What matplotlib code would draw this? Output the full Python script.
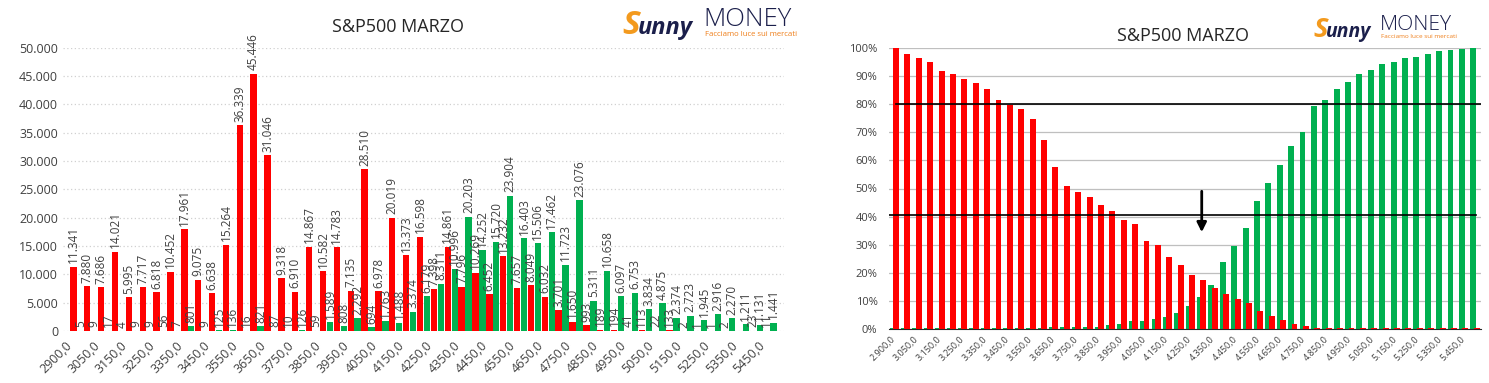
import matplotlib.pyplot as plt
import numpy as np
from matplotlib.ticker import FuncFormatter, MultipleLocator

# strike (categorie)
strikes = [2900, 3000, 3050, 3100, 3150, 3200, 3250, 3300, 3350, 3400, 3450, 3500,
           3550, 3600, 3650, 3700, 3750, 3800, 3850, 3900, 3950, 4000, 4050, 4100,
           4150, 4200, 4250, 4300, 4350, 4400, 4450, 4500, 4550, 4600, 4650, 4700,
           4750, 4800, 4850, 4900, 4950, 5000, 5050, 5100, 5150, 5200, 5250, 5300,
           5350, 5400, 5450, 5500]

# open interest call (verde) e put (rosso)
calls = [0, 5, 9, 17, 4, 9, 9, 56, 7, 801, 9, 125, 136, 16, 821, 87, 10, 126, 59,
         1589, 808, 2292, 694, 1763, 1488, 3374, 6179, 8311, 10996, 20203, 14252,
         15720, 23904, 16403, 15506, 17462, 11723, 23076, 5311, 10658, 6097, 6753,
         3834, 4875, 2374, 2723, 1945, 2916, 2270, 1211, 1131, 1441]
puts = [11341, 7880, 7686, 14021, 5995, 7717, 6818, 10452, 17961, 9075, 6638, 15264,
        36339, 45446, 31046, 9318, 6910, 14867, 10582, 14783, 7135, 28510, 6978,
        20019, 13373, 16598, 7398, 14861, 7796, 10269, 6452, 13232, 7657, 8049, 6032,
        3701, 1650, 993, 189, 194, 41, 113, 22, 133, 2, 1, 1, 2, 0, 23, 11, 0]

# percentuali cumulate (grafico di destra)
calls_pct = [0.4, 0.4, 0.4, 0.4, 0.4, 0.4, 0.4, 0.4, 0.4, 0.6, 0.6, 0.6, 0.6, 0.6,
             0.8, 0.8, 0.8, 0.8, 0.8, 1.6, 2.0, 2.8, 3.1, 3.8, 4.4, 5.8, 8.3, 11.5,
             15.8, 24.0, 29.7, 36.0, 45.6, 52.0, 58.3, 65.1, 70.0, 79.2, 81.3, 85.5,
             87.8, 90.7, 92.1, 94.2, 95.0, 96.3, 96.8, 97.9, 98.7, 99.3, 99.7, 100.0]
puts_pct = [100.0, 97.9, 96.2, 94.8, 91.7, 90.6, 88.8, 87.4, 85.3, 81.4, 79.6, 78.2,
            74.7, 67.3, 57.5, 50.8, 48.6, 47.1, 44.1, 42.0, 38.8, 37.4, 31.5, 29.9,
            25.7, 22.8, 19.2, 17.4, 14.5, 12.7, 10.6, 9.4, 6.4, 4.6, 3.2, 1.8, 1.1,
            0.6, 0.5, 0.5, 0.5, 0.5, 0.5, 0.5, 0.5, 0.5, 0.5, 0.5, 0.5, 0.5, 0.5, 0.5]

livelli = [80, 40.5]       # linee orizzontali nere
freccia_strike = 4300      # posizione della freccia

GREEN = "#00B050"
RED = "#FF0000"
NAVY = "#1B1F4B"
ORANGE = "#F39A1E"
TXT = "#404040"

W, H = 1489, 383
plt.rcParams['font.family'] = ['Open Sans', 'DejaVu Sans']
fig = plt.figure(figsize=(W / 100, H / 100), dpi=100)


def fx(x):
    return x / W


def fy(y):
    return 1 - y / H


def punti(v):
    return f"{int(v):,}".replace(",", ".")


x = np.arange(len(strikes))

# ---------------- grafico sinistro ----------------
ax1 = fig.add_axes([fx(63), fy(331), fx(784) - fx(63), fy(47.7) - fy(331)])
ax1.bar(x - 0.25, calls, 0.46, color=GREEN, zorder=2)
ax1.bar(x + 0.25, puts, 0.46, color=RED, zorder=2)
for xi, c, p in zip(x, calls, puts):
    for off, v in ((-0.25, c), (0.25, p)):
        if v > 0:
            ax1.annotate(punti(v), (xi + off, v), xytext=(0, 2.5), textcoords="offset points",
                         rotation=90, ha="center", va="bottom", fontsize=8.5, color=TXT,
                         annotation_clip=False, zorder=5)
ax1.set_xlim(-0.5, len(strikes) - 0.5)
ax1.set_ylim(0, 50000)
ax1.yaxis.set_major_locator(MultipleLocator(5000))
ax1.yaxis.set_major_formatter(FuncFormatter(lambda v, _: punti(v)))
ax1.set_xticks(x[::2])
ax1.set_xticklabels([f"{s},0" for s in strikes[::2]], rotation=45, ha="right",
                    va="center", rotation_mode="anchor")
ax1.tick_params(length=0, labelsize=9, colors=TXT)
ax1.tick_params(axis="x", pad=9)
ax1.yaxis.grid(True, color="#D0D0D0", linestyle=(0, (1, 2)), lw=0.9)
ax1.set_axisbelow(True)
for s in ax1.spines.values():
    s.set_visible(False)

# ---------------- grafico destro ----------------
ax2 = fig.add_axes([fx(888.6), fy(329.3), fx(1480.7) - fx(888.6), fy(47.7) - fy(329.3)])
ax2.bar(x - 0.15, calls_pct, 0.52, color=GREEN, zorder=2)
ax2.bar(x + 0.15, puts_pct, 0.52, color=RED, zorder=3)
ax2.set_xlim(-0.5, len(strikes) - 0.5)
ax2.set_ylim(0, 100)
ax2.yaxis.set_major_locator(MultipleLocator(10))
ax2.yaxis.set_major_formatter(FuncFormatter(lambda v, _: f"{int(v)}%"))
ax2.set_xticks(x[::2])
ax2.set_xticklabels([f"{punti(s)},0" for s in strikes[::2]], rotation=45, ha="right",
                    va="center", rotation_mode="anchor")
ax2.tick_params(length=0, colors=TXT)
ax2.tick_params(axis="y", labelsize=8, pad=8)
ax2.tick_params(axis="x", labelsize=6.5, pad=6)
ax2.yaxis.grid(True, color="#BFBFBF", lw=0.9)
ax2.set_axisbelow(True)
for k, s in ax2.spines.items():
    s.set_visible(k == "bottom")
ax2.spines["bottom"].set_color("#262626")
ax2.axhline(livelli[0], xmin=0.0125, xmax=1.0, color="black", lw=1.2, zorder=4)
ax2.axhline(livelli[1], xmin=0.0, xmax=0.992, color="black", lw=1.2, zorder=4)
xf = strikes.index(freccia_strike)
ax2.annotate("", xy=(xf, 33.5), xytext=(xf, 50),
             arrowprops=dict(arrowstyle="-|>", color="black", lw=2, mutation_scale=14),
             zorder=6)

# titoli
fig.text(fx(398), fy(27), "S&P500 MARZO", ha="center", va="center", fontsize=13, color="#262626")
fig.text(fx(1183), fy(36), "S&P500 MARZO", ha="center", va="center", fontsize=13, color="#262626")


# logo
def logo(x0, base, s):
    fig.text(fx(x0), fy(base + 8 * s), "S", fontsize=24 * s, style="italic", weight="bold",
             color=ORANGE, va="baseline")
    fig.text(fx(x0 + 16 * s), fy(base + 8 * s), "unny", fontsize=17 * s, style="italic",
             weight="bold", color=NAVY, va="baseline")
    fig.text(fx(x0 + 81 * s), fy(base), "MONEY", fontsize=18.5 * s, color=NAVY,
             va="baseline", weight="light")
    fig.text(fx(x0 + 83 * s), fy(base + 10 * s), "Facciamo luce sui mercati",
             fontsize=5.6 * s, color="#EF7F1A", va="baseline")


logo(622, 26, 1.0)
logo(1313, 30, 0.82)

fig.savefig("out.png", dpi=100)
